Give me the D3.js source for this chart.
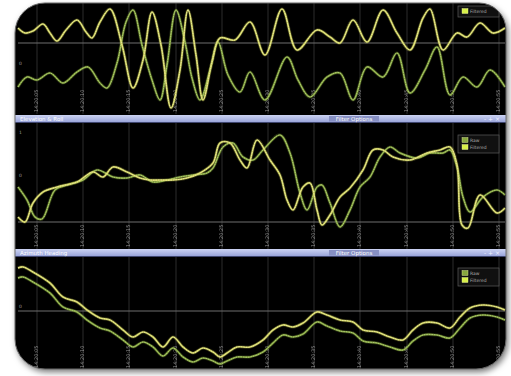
<!DOCTYPE html>
<html lang="en">
<head>
<meta charset="UTF-8">
<script src="https://d3js.org/d3.v7.min.js"></script>
<style>
    body {margin: 0; background-color: #ffffff;}
    svg {display: block;}
</style>
</head>
<body>
<svg class="chart" width="511" height="376"></svg>
<script type="text/javascript">
    // sample index along x, reading value along y (per panel units)
    var sampleTicks = [19, 65, 111, 158, 204, 250, 296, 342, 389, 435, 481];
    var timeLabels = ['14:20:05', '14:20:10', '14:20:15', '14:20:20', '14:20:25', '14:20:30',
                      '14:20:35', '14:20:40', '14:20:45', '14:20:50', '14:20:55'];
    var legendNames = ['Raw', 'Filtered'];
    var panelTitles = ['', 'Elevation & Roll', 'Azimuth Heading'];

    var p1Filtered = [[0,84],[7,79],[15,81],[25,88],[32,79],[39,71],[48,82],[59,92],[68,80],[74,74],
        [82,90],[92,103],[104,67],[115,24],[125,52],[134,100],[143,67],[153,4],[162,42],[170,102],
        [178,57],[185,12],[194,50],[202,74],[217,72],[232,90],[247,57],[264,103],[279,62],[299,82],
        [312,75],[322,69],[335,92],[349,70],[365,102],[379,79],[392,62],[405,94],[412,103],[425,62],
        [439,79],[449,75],[462,89],[475,79],[487,84]];
    var p1Raw = [[0,25],[9,35],[19,32],[32,39],[45,29],[59,40],[70,45],[82,29],[89,24],[99,49],
        [108,90],[115,102],[124,67],[134,32],[142,12],[149,47],[158,102],[167,70],[174,34],[182,12],
        [192,42],[200,70],[210,37],[222,20],[232,40],[247,12],[269,55],[280,32],[292,15],[309,35],
        [322,39],[335,12],[349,45],[365,35],[379,59],[392,19],[407,42],[419,65],[432,17],[445,35],
        [459,25],[472,42],[487,25]];

    var p2Filtered = [[0,31],[7,26],[15,45],[25,56],[39,61],[59,66],[75,76],[85,71],[95,81],[109,76],
        [122,70],[132,68],[142,68],[155,68],[169,70],[182,75],[195,85],[202,105],[212,105],[222,88],
        [229,80],[239,108],[252,88],[262,73],[269,48],[275,38],[285,61],[292,65],[299,38],[304,23],
        [312,33],[322,51],[332,60],[345,78],[355,98],[365,98],[375,91],[392,88],[409,95],[422,98],
        [432,101],[439,83],[444,23],[450,20],[462,53],[479,35],[487,40]];
    var p2Raw = [[0,61],[9,48],[17,31],[24,29],[37,58],[49,63],[65,68],[79,78],[95,71],[109,70],
        [122,73],[135,66],[149,68],[162,71],[175,73],[189,75],[195,80],[205,101],[215,105],[225,91],
        [235,88],[245,98],[262,113],[272,95],[282,55],[289,38],[299,61],[304,63],[312,45],[322,21],
        [332,38],[342,61],[352,71],[362,91],[372,101],[382,95],[399,90],[412,95],[425,95],[432,98],
        [439,81],[445,51],[452,36],[465,51],[479,58],[487,53]];

    var p3Filtered = [[0,98],[5,99],[15,94],[32,83],[45,69],[59,64],[69,56],[82,48],[92,46],[105,36],
        [115,29],[125,34],[135,29],[145,19],[155,29],[165,19],[175,13],[185,18],[195,14],[202,9],
        [209,13],[219,19],[232,19],[245,26],[255,36],[265,41],[275,39],[285,43],[299,54],[309,51],
        [322,46],[335,44],[345,36],[359,34],[372,29],[385,26],[395,36],[405,43],[419,43],[432,38],
        [442,49],[452,58],[465,61],[479,59],[487,56]];
    var p3Raw = [[0,88],[5,89],[15,84],[32,73],[45,59],[59,54],[69,46],[82,38],[92,35],[105,26],
        [115,19],[125,24],[135,19],[145,10],[155,18],[165,9],[175,4],[185,8],[195,5],[202,2],
        [209,5],[219,9],[232,9],[245,14],[255,23],[265,31],[275,29],[285,32],[299,44],[309,40],
        [322,35],[335,33],[345,25],[359,23],[372,19],[385,16],[395,25],[405,31],[419,31],[432,28],
        [442,38],[452,48],[465,51],[479,49],[487,46]];

    var p1Grid = [69], p2Grid = [26], p3Grid = [55];
    var p1Labels = [[47, '0']], p2Labels = [[114, '1'], [71, '0']], p3Labels = [[58, '0']];

    var svg = d3.select('.chart');
    var defs = svg.append('defs');

    var shadow = defs.append('filter').attr('id', 'shadow')
        .attr('x', '-10%').attr('y', '-10%').attr('width', '120%').attr('height', '125%');
    shadow.append('feDropShadow').attr('dx', 2).attr('dy', 3).attr('stdDeviation', 3)
        .attr('flood-color', '#000').attr('flood-opacity', 0.55);

    var barGrad = defs.append('linearGradient').attr('id', 'bar').attr('x1', 0).attr('y1', 0).attr('x2', 0).attr('y2', 1);
    barGrad.append('stop').attr('offset', '0%').attr('stop-color', '#ccd3f3');
    barGrad.append('stop').attr('offset', '100%').attr('stop-color', '#97a2d8');

    function framePath(x0, y0, x1, y1, tl, tr, br, bl) {
        return 'M' + (x0 + tl) + ',' + y0 + ' H' + (x1 - tr) + ' A' + tr + ',' + tr + ' 0 0 1 ' + x1 + ',' + (y0 + tr) +
            ' V' + (y1 - br) + ' A' + br + ',' + br + ' 0 0 1 ' + (x1 - br) + ',' + y1 +
            ' H' + (x0 + bl) + ' A' + bl + ',' + bl + ' 0 0 1 ' + x0 + ',' + (y1 - bl) +
            ' V' + (y0 + tl) + ' A' + tl + ',' + tl + ' 0 0 1 ' + (x0 + tl) + ',' + y0 + ' Z';
    }
    var outline = framePath(15, 3, 506, 369, 30, 27, 30, 30);

    defs.append('clipPath').attr('id', 'frameClip').append('path').attr('d', outline);

    svg.append('path').attr('d', outline).attr('fill', '#050505').attr('filter', 'url(#shadow)');

    var win = svg.append('g').attr('clip-path', 'url(#frameClip)');

    var x = d3.scaleLinear().domain([0, 487]).range([18, 505]);

    var panels = [
        {top: 0, bottom: 114, range: [112, 8], max: 104, grid: p1Grid, labels: p1Labels,
         series: [p1Filtered, p1Raw], legend: [[1]], legendY: 6},
        {top: 123, bottom: 249, range: [248, 123], max: 125, grid: p2Grid, labels: p2Labels,
         series: [p2Filtered, p2Raw], legend: [[0], [1]], legendY: 135},
        {top: 257, bottom: 370, range: [366, 257], max: 109, grid: p3Grid, labels: p3Labels,
         series: [p3Filtered, p3Raw], legend: [[0], [1]], legendY: 268}
    ];
    // colours: [outer, core] for Filtered (yellow) and Raw (green)
    var lineColors = [['#d2d460', '#eeeeb4'], ['#86a63e', '#bcd28c']];

    panels.forEach(function (p, i) {
        var y = d3.scaleLinear().domain([0, p.max]).range(p.range);
        var g = win.append('g');
        var clipId = 'plot' + i;
        defs.append('clipPath').attr('id', clipId).append('rect')
            .attr('x', 17).attr('y', p.top).attr('width', 490).attr('height', p.bottom - p.top);

        g.selectAll('.vgrid').data(sampleTicks).enter().append('line')
            .attr('x1', function (d) { return x(d); }).attr('x2', function (d) { return x(d); })
            .attr('y1', p.top).attr('y2', p.bottom)
            .attr('stroke', '#2c2c2c').attr('stroke-width', 1);

        g.selectAll('.hgrid').data(p.grid).enter().append('line')
            .attr('x1', 18).attr('x2', 505)
            .attr('y1', function (d) { return y(d); }).attr('y2', function (d) { return y(d); })
            .attr('stroke', '#6e6e6e').attr('stroke-width', 1);

        g.selectAll('.ylab').data(p.labels).enter().append('text')
            .attr('x', 19).attr('y', function (d) { return y(d[0]); })
            .attr('font-family', 'DejaVu Sans').attr('font-size', 4.5).attr('fill', '#9a9a9a')
            .text(function (d) { return d[1]; });

        var labelBase = i === 2 ? 368 : p.bottom - 2;
        g.selectAll('.xlab').data(sampleTicks).enter().append('text')
            .attr('transform', function (d) { return 'translate(' + x(d) + ',' + labelBase + ') rotate(-90)'; })
            .attr('dominant-baseline', 'middle')
            .attr('font-family', 'DejaVu Sans').attr('font-size', 5).attr('fill', '#b0b0b0')
            .attr('opacity', 0.8)
            .text(function (d, k) { return timeLabels[k]; });

        var line = d3.line()
            .x(function (d) { return x(d[0]); })
            .y(function (d) { return y(d[1]); })
            .curve(d3.curveCatmullRom.alpha(0.5));

        var lines = g.append('g').attr('clip-path', 'url(#' + clipId + ')');
        [1, 0].forEach(function (s) {
            lines.append('path').attr('d', line(p.series[s])).attr('fill', 'none')
                .attr('stroke', lineColors[s][0]).attr('stroke-opacity', 0.25).attr('stroke-width', 3.2);
            lines.append('path').attr('d', line(p.series[s])).attr('fill', 'none')
                .attr('stroke', lineColors[s][0]).attr('stroke-width', 1.7);
            lines.append('path').attr('d', line(p.series[s])).attr('fill', 'none')
                .attr('stroke', lineColors[s][1]).attr('stroke-width', 0.7)
                .attr('stroke-dasharray', '1.5,1');
        });

        // legend
        var lg = g.append('g');
        var lh = p.legend.length * 7 + 4;
        lg.append('rect').attr('x', 458).attr('y', p.legendY).attr('width', 41).attr('height', lh)
            .attr('fill', '#101010').attr('stroke', '#5c5c5c').attr('stroke-width', 0.7);
        p.legend.forEach(function (e, k) {
            var s = e[0];
            var ly = p.legendY + 2.5 + k * 7;
            lg.append('rect').attr('x', 462).attr('y', ly).attr('width', 6).attr('height', 5)
                .attr('fill', s === 1 ? '#d8f048' : lineColors[1 - s][0])
                .attr('stroke', '#e8f4a0').attr('stroke-width', 0.4);
            lg.append('text').attr('x', 470).attr('y', ly + 4)
                .attr('font-family', 'DejaVu Sans').attr('font-size', 4.5).attr('fill', '#a8a8a8')
                .text(legendNames[k === 0 && p.legend.length === 1 ? 1 : k]);
        });

        // title bar above panels 2 and 3
        if (i > 0) {
            var by = p.top - 8;
            var bar = win.append('g');
            bar.append('rect').attr('x', 15).attr('y', by).attr('width', 492).attr('height', 7.5)
                .attr('fill', 'url(#bar)');
            bar.append('line').attr('x1', 15).attr('x2', 507).attr('y1', by + 7.5).attr('y2', by + 7.5)
                .attr('stroke', '#3c4470').attr('stroke-width', 0.8);
            bar.append('text').attr('x', 20).attr('y', by + 5.6)
                .attr('font-family', 'DejaVu Sans').attr('font-size', 5.5).attr('fill', '#ffffff')
                .text(panelTitles[i]);
            bar.append('rect').attr('x', 329).attr('y', by + 1).attr('width', 50).attr('height', 5.5)
                .attr('fill', '#8790c4');
            bar.append('text').attr('x', 354).attr('y', by + 5.6).attr('text-anchor', 'middle')
                .attr('font-family', 'DejaVu Sans').attr('font-size', 5.5).attr('fill', '#ffffff')
                .text('Filter Options');
            bar.append('text').attr('x', 500).attr('y', by + 5.8).attr('text-anchor', 'end')
                .attr('font-family', 'DejaVu Sans').attr('font-size', 6).attr('fill', '#eef0ff')
                .text('- + \u00d7');
        }
    });

    // light window edge
    svg.append('path').attr('d', outline).attr('fill', 'none')
        .attr('stroke', '#6a6a6a').attr('stroke-width', 1);
</script>
</body>
</html>
